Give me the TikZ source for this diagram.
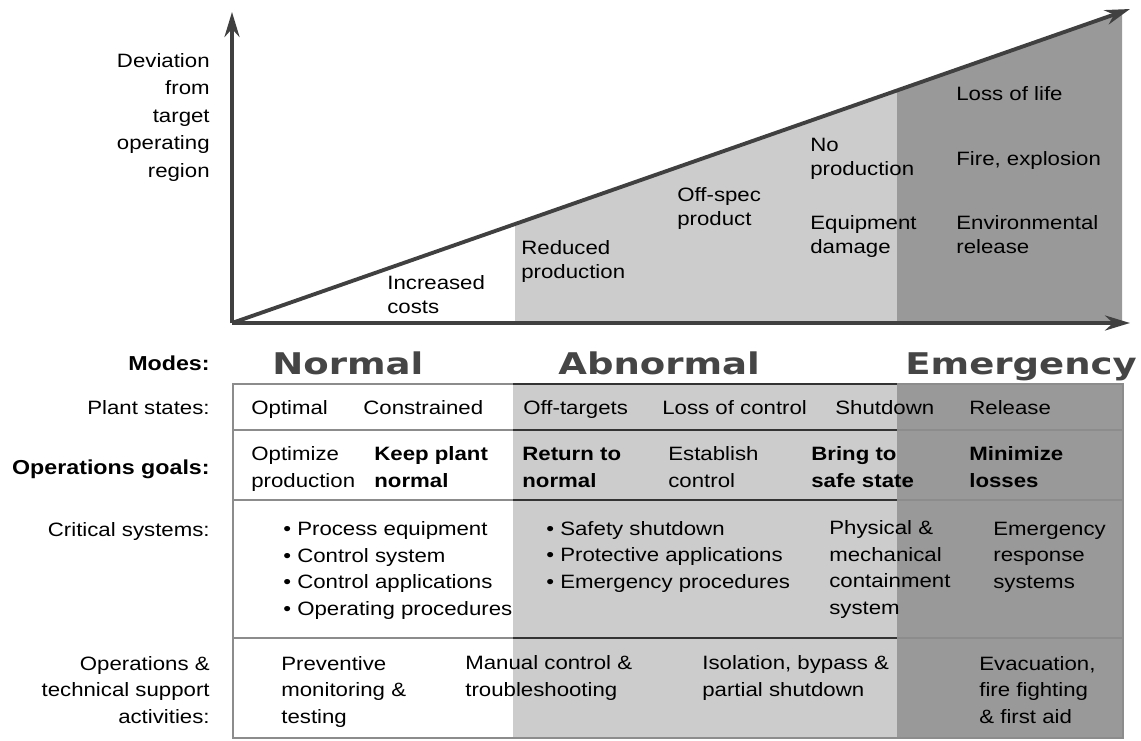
\documentclass[tikz,border=0pt]{standalone}
\usepackage{fontspec}
\setmainfont{Liberation Sans}[FakeStretch=1.15]
\newfontfamily\modefont{DejaVu Sans Bold}[FakeStretch=1.24]
\usetikzlibrary{arrows.meta}
\definecolor{lightshade}{gray}{0.80}
\definecolor{darkshade}{gray}{0.60}
\definecolor{axisgray}{gray}{0.25}
\definecolor{modegray}{gray}{0.27}
\definecolor{linegray}{gray}{0.55}

\begin{document}
\begin{tikzpicture}[x=0.02cm, y=-0.02cm, >=Stealth,
  every node/.style={inner sep=0pt, font=\fontsize{11}{15}\selectfont},
  lbl/.style={anchor=base east, align=right},
  t/.style={anchor=base west, align=left},
  tb/.style={t, font=\fontsize{11}{15}\selectfont\bfseries},
  ct/.style={t, font=\fontsize{11}{13.5}\selectfont},
  mode/.style={anchor=base west, text=modegray, font=\modefont\fontsize{17}{20}\selectfont},
  ax/.style={draw=axisgray, line width=2.2pt, -{Stealth[length=5mm, width=3mm]}},
  tline/.style={draw=linegray, line width=0.8pt},
  dline/.style={draw=black!80, line width=1.2pt}]
\useasboundingbox (0,0) rectangle (1141,740);

% chart (multi-line nodes sit on the baseline of their last line)
\coordinate (o) at (232,323);
\coordinate (ytip) at (232,12);
\coordinate (xtip) at (1130,323);
\coordinate (stip) at (1130,9);
\fill[lightshade] (515,323) -- (515,224) -- (897,90.4) -- (897,323) -- cycle;
\fill[darkshade] (897,323) -- (897,90.4) -- (1122,11.8) -- (1122,323) -- cycle;
\draw[ax] (o) -- (ytip);
\draw[ax] (o) -- (xtip);
\draw[ax] (o) -- (stip);

\node[lbl, font=\fontsize{11}{15.6}\selectfont] (dev) at (210,177) {Deviation\\from\\target\\operating\\region};
\node[ct] (cost) at (387,313) {Increased\\costs};
\node[ct] (redp) at (521,278) {Reduced\\production};
\node[ct] (offs) at (677,225) {Off-spec\\product};
\node[ct] (nop) at (810,175) {No\\production};
\node[ct] (eqd) at (810,253) {Equipment\\damage};
\node[ct] (life) at (956,100) {Loss of life};
\node[ct] (fire) at (956,165) {Fire, explosion};
\node[ct] (env) at (956,253) {Environmental\\release};

% modes
\node[lbl, font=\fontsize{11.5}{15}\selectfont\bfseries] (modes) at (210,370) {Modes:};
\node[mode] (mnorm) at (272,374) {Normal};
\node[mode] (mabn) at (558,374) {Abnormal};
\node[mode] (memg) at (905,374) {Emergency};

% table
\fill[lightshade] (513,384) rectangle (897,738);
\fill[darkshade] (897,384) rectangle (1123,738);
\draw[tline] (233,384) rectangle (1123,738);
\foreach \y in {430,500,638} \draw[tline] (233,\y) -- (1123,\y);
\foreach \y in {384,430,500,638} \draw[dline] (513,\y) -- (897,\y);

\node[lbl] (states) at (210,414) {Plant states:};
\node[t] (opt) at (251,414) {Optimal};
\node[t] (cons) at (363,414) {Constrained};
\node[t] (offt) at (523,414) {Off-targets};
\node[t] (loss) at (662,414) {Loss of control};
\node[t] (shut) at (835,414) {Shutdown};
\node[t] (rel) at (969,414) {Release};

\node[lbl, font=\fontsize{11.5}{15}\selectfont\bfseries] (goals) at (210,474) {Operations goals:};
\node[t] (gopt) at (251,487) {Optimize\\production};
\node[tb] (gkeep) at (374,487) {Keep plant\\normal};
\node[tb] (gret) at (522,487) {Return to\\normal};
\node[t] (gest) at (668,487) {Establish\\control};
\node[tb] (gsafe) at (811,487) {Bring to\\safe state};
\node[tb] (gmin) at (969,487) {Minimize\\losses};

\node[lbl] (crit) at (210,536) {Critical systems:};
\node[t] (cnorm) at (283,615) {• Process equipment\\• Control system\\• Control applications\\• Operating procedures};
\node[t] (cabn) at (546,588) {• Safety shutdown\\• Protective applications\\• Emergency procedures};
\node[t] (cphys) at (829,614) {Physical \&\\mechanical\\containment\\system};
\node[t] (cemg) at (993,588) {Emergency\\response\\systems};

\node[lbl] (act) at (210,723) {Operations \&\\technical support\\activities:};
\node[t] (aprev) at (281,723) {Preventive\\monitoring \&\\testing};
\node[t] (aman) at (465,696) {Manual control \&\\troubleshooting};
\node[t] (aiso) at (702,696) {Isolation, bypass \&\\partial shutdown};
\node[t] (aevac) at (979,723) {Evacuation,\\fire fighting\\\& first aid};
\end{tikzpicture}
\end{document}
